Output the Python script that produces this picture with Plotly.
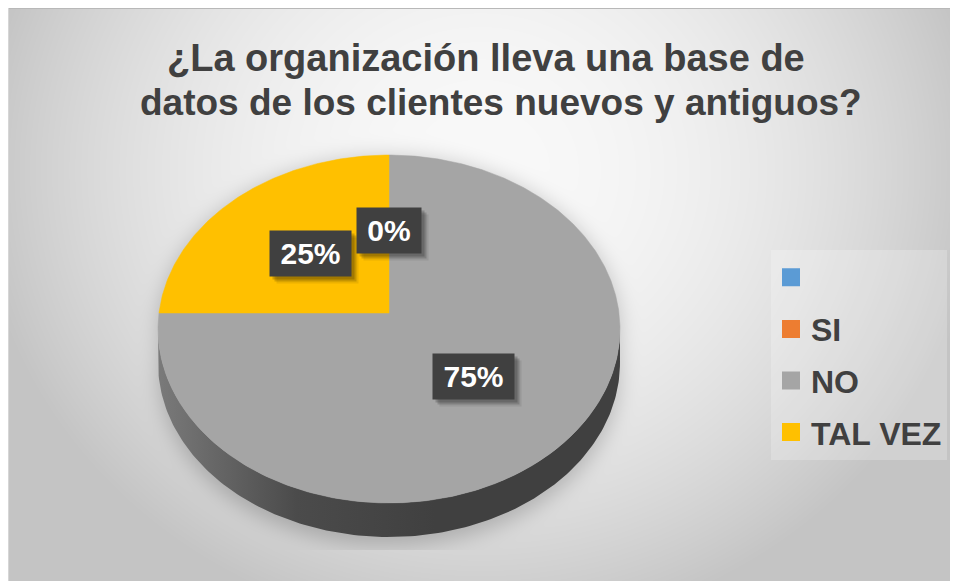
import numpy as np
import plotly.graph_objects as go
import zlib, struct, base64

# ---------------- data ----------------
categories = ["", "SI", "NO", "TAL VEZ"]
values = [None, 0, 75, 25]          # percentages
colors = ["#5B9BD5", "#ED7D31", "#A5A5A5", "#FFC000"]
title_lines = ["¿La organización lleva una base de",
               "datos de los clientes nuevos y antiguos?"]

# ---------------- geometry (pixel space of the figure) ----------------
W, H = 950, 573
CX, CY = 381.0, 305.0      # pie centre
A, B = 230.0, 172.5        # horizontal / vertical radii of the tilted top face
K = 0.092                  # perspective factor
DEPTH = 34.0               # thickness of the 3-D pie
FONT = "Liberation Sans, Arial, sans-serif"


def proj(theta_deg, f=1.0, drop=0.0):
    t = np.radians(theta_deg)
    u = f * np.sin(t)
    v = f * np.cos(t)
    s = 1.0 / (1.0 + K * v)
    return CX + A * u * s, CY - B * v * s + drop


def hex2rgb(h):
    h = h.lstrip("#")
    return tuple(int(h[i:i + 2], 16) for i in (0, 2, 4))


def shade(h, f):
    r, g, b = hex2rgb(h)
    return "rgb(%d,%d,%d)" % (r * f, g * f, b * f)


# ---------------- background image (gradient + soft shadow) ----------------
yy, xx = np.mgrid[0:H, 0:W].astype(float)
d2 = ((xx - 472.0) / 520.0) ** 2 + ((yy - 162.0) / 480.0) ** 2
bg = np.clip(249.0 - 56.0 * d2, 196, 250)


def inside_face(drop):
    X = (xx - CX) / A
    Y = (CY + drop - yy) / B
    den = 1.0 - K * Y
    u = X / den
    v = Y / den
    return (u * u + v * v <= 1.0) & (den > 0)


mask = np.zeros((H, W), dtype=bool)
for dr in np.arange(0, DEPTH + 10, 2):
    mask |= inside_face(dr)


def blur1d(a, r, axis):
    pad = [(0, 0), (0, 0)]
    pad[axis] = (r + 1, r)
    p = np.pad(a, pad, mode="edge")
    c = np.cumsum(p, axis=axis)
    if axis == 0:
        return (c[2 * r + 1:, :] - c[:-2 * r - 1, :]) / (2 * r + 1)
    return (c[:, 2 * r + 1:] - c[:, :-2 * r - 1]) / (2 * r + 1)


sh = mask.astype(float)
for _ in range(3):
    sh = blur1d(blur1d(sh, 9, 0), 9, 1)
sh[542:, :] = 0
bg = bg - 44.0 * sh

img = bg.astype(np.uint8)
img[0, :] = 184
img[:, 0] = 214


def png_uri(gray):
    h, w = gray.shape
    raw = b"".join(b"\x00" + gray[i].tobytes() for i in range(h))

    def chunk(t, d):
        c = struct.pack(">I", len(d)) + t + d
        return c + struct.pack(">I", zlib.crc32(t + d) & 0xFFFFFFFF)

    data = (b"\x89PNG\r\n\x1a\n" +
            chunk(b"IHDR", struct.pack(">IIBBBBB", w, h, 8, 0, 0, 0, 0)) +
            chunk(b"IDAT", zlib.compress(raw, 9)) +
            chunk(b"IEND", b""))
    return "data:image/png;base64," + base64.b64encode(data).decode()


# ---------------- figure ----------------
fig = go.Figure()

valid = [v for v in values if v is not None]
total = float(sum(valid))
th_r = np.degrees(np.arccos(-K))          # right silhouette angle
th_l = 360.0 - th_r                        # left silhouette angle

slices = []
start = 0.0
for cat, val, col in zip(categories, values, colors):
    if val is None:
        continue
    span = val / total * 360.0
    slices.append((cat, val, col, start, start + span))
    start += span

# sides (front part of the cylinder wall)
for cat, val, col, a0, a1 in slices:
    lo, hi = max(a0, th_r), min(a1, th_l)
    if hi <= lo:
        continue
    th = np.linspace(lo, hi, 160)
    xt, yt = proj(th)
    xb, yb = proj(th[::-1], drop=DEPTH)
    fig.add_trace(go.Scatter(
        x=np.concatenate([xt, xb]), y=np.concatenate([yt, yb]),
        mode="lines", fill="toself", line=dict(width=0),
        fillgradient=dict(type="horizontal",
                          colorscale=[[0, shade(col, 0.74)], [0.3, shade(col, 0.46)],
                                      [0.6, shade(col, 0.39)], [1, shade(col, 0.39)]]),
        hoverinfo="skip", showlegend=False))

# top faces
for cat, val, col, a0, a1 in slices:
    if a1 - a0 <= 0:
        continue
    n = max(4, int((a1 - a0) * 2))
    th = np.linspace(a0, a1, n)
    xa, ya = proj(th)
    fig.add_trace(go.Scatter(
        x=np.concatenate([[CX], xa, [CX]]), y=np.concatenate([[CY], ya, [CY]]),
        mode="lines", fill="toself", fillcolor=col, line=dict(width=0.5, color=col),
        hoverinfo="skip", showlegend=False))

# legend entries
for i, (cat, col) in enumerate(zip(categories, colors)):
    fig.add_trace(go.Scatter(
        x=[None], y=[None], mode="markers", name=cat if cat else " ",
        marker=dict(symbol="square", size=17, color=col, line=dict(width=2, color=col)),
        legendgroup="g%d" % i, showlegend=True, hoverinfo="skip"))

# data labels
char_w = {"0": .556, "1": .556, "2": .556, "3": .556, "4": .556, "5": .556,
          "6": .556, "7": .556, "8": .556, "9": .556, "%": .889}
LBL_SIZE = 30
annotations = []
labels = []
for cat, val, col, a0, a1 in slices:
    lx, ly = proj((a0 + a1) / 2.0, f=0.5)
    txt = "%d%%" % round(val / total * 100)
    wbox = int(round(LBL_SIZE * sum(char_w[c] for c in txt))) + 21
    labels.append((float(lx), float(ly), txt, wbox))

for lx, ly, txt, wbox in labels:
    for off, alpha in ((3, 0.18), (5, 0.16), (7, 0.08)):
        annotations.append(dict(
            x=lx, y=ly, xref="x", yref="y", text=" ", showarrow=False,
            width=wbox, height=45, borderpad=0, xshift=off, yshift=-off,
            bgcolor="rgba(0,0,0,%g)" % alpha, font=dict(size=LBL_SIZE)))
for lx, ly, txt, wbox in labels:
    annotations.append(dict(
        x=lx, y=ly, xref="x", yref="y", text=txt, showarrow=False,
        width=wbox, height=45, borderpad=0, bgcolor="#404040",
        font=dict(family=FONT, size=LBL_SIZE, color="white", weight="bold")))

# title (two lines)
title_pos = [(478, 50, 38), (493, 94, 37)]
for line, (tx, ty, ts) in zip(title_lines, title_pos):
    annotations.append(dict(
        x=tx, y=ty, xref="x", yref="y", text=line, showarrow=False,
        font=dict(family=FONT, size=ts, color="#404040", weight="bold")))

fig.update_layout(
    width=W, height=H,
    margin=dict(l=0, r=0, t=0, b=0, autoexpand=False),
    paper_bgcolor="white", plot_bgcolor="rgba(0,0,0,0)",
    xaxis=dict(range=[0, W], visible=False, fixedrange=True, domain=[0, 1]),
    yaxis=dict(range=[H, 0], visible=False, fixedrange=True, domain=[0, 1]),
    images=[dict(source=png_uri(img), xref="paper", yref="paper", x=0, y=1,
                 sizex=1, sizey=1, xanchor="left", yanchor="top",
                 sizing="stretch", layer="below")],
    annotations=annotations,
    showlegend=True,
    legend=dict(x=763 / W, y=1 - 242 / H, xanchor="left", yanchor="top",
                bgcolor="rgba(255,255,255,0.22)", borderwidth=0,
                traceorder="grouped", tracegroupgap=7,
                font=dict(family=FONT, size=32, color="#404040", weight="bold")),
)

fig.write_html(
    "out.html",
    post_script="document.documentElement.style.overflow='hidden';"
                "document.body.style.overflow='hidden';")
